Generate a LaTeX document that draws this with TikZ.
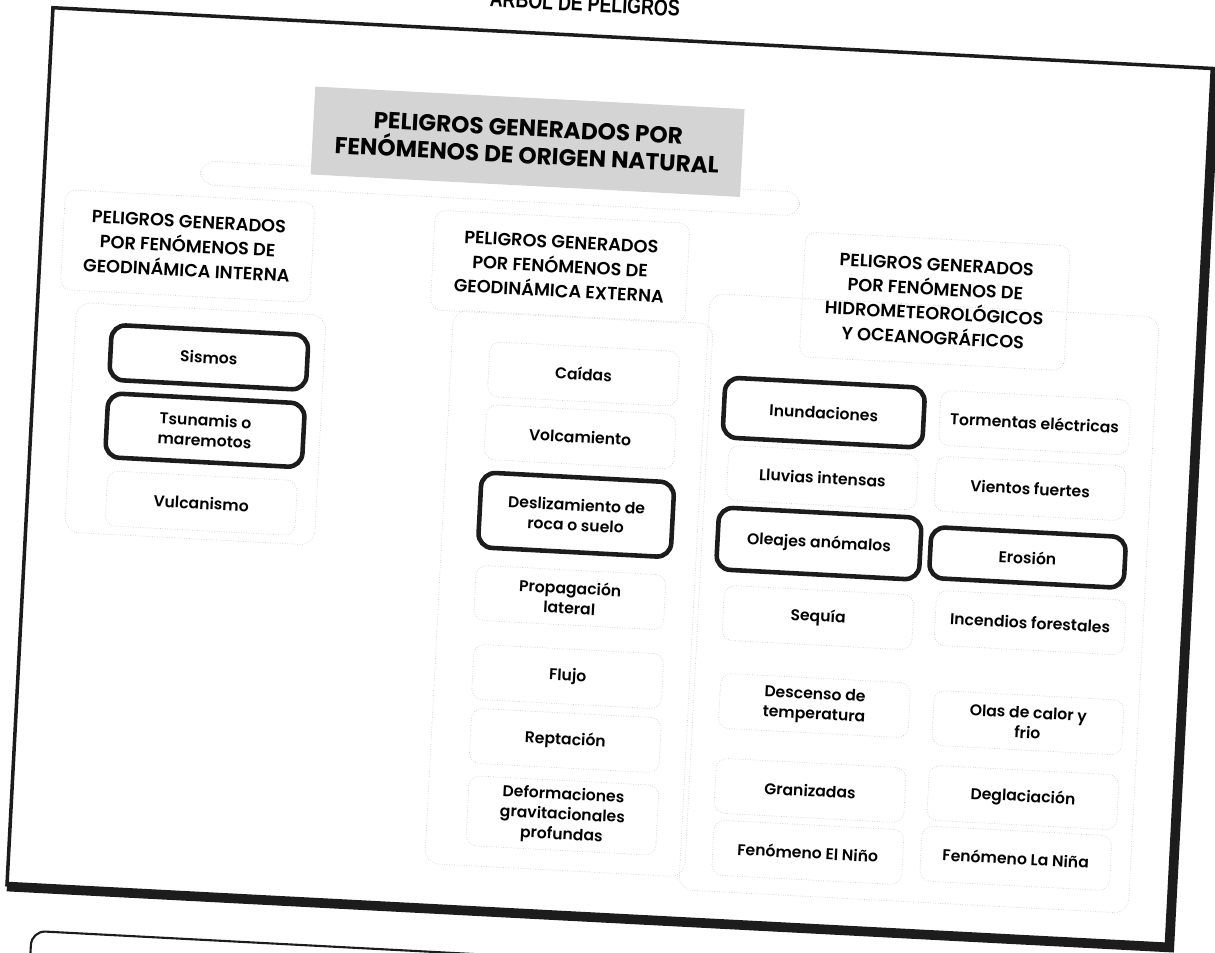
\documentclass[tikz,border=0pt]{standalone}
\usepackage{fontspec}
\setmainfont{Poppins}[UprightFont={* SemiBold}, BoldFont={* Bold}]
\newfontfamily\titlefont{Liberation Sans}[FakeStretch=0.78]
\usetikzlibrary{positioning}
\definecolor{faintgray}{RGB}{205,205,205}
\definecolor{shadegray}{RGB}{212,212,212}
\definecolor{scanblack}{RGB}{28,28,28}

\begin{document}
\begin{tikzpicture}[x=0.02cm, y=-0.02cm,
        every node/.style={transform shape, align=center, inner sep=2pt, font=\fontsize{8.9}{11.4}\selectfont},
        topbox/.style={rectangle, fill=shadegray, minimum width=8.6cm, minimum height=1.76cm, font=\fontsize{13.2}{15.5}\selectfont\bfseries},
        headbox/.style={rectangle, draw=faintgray, densely dotted, rounded corners=6pt, minimum width=5cm, minimum height=2cm, font=\fontsize{10.1}{13.9}\selectfont},
        item/.style={rectangle, draw=faintgray, densely dotted, rounded corners=6pt, minimum width=3.8cm, minimum height=1.1cm},
        keyitem/.style={item, draw=scanblack, solid, line width=2.6pt, rounded corners=8pt, minimum width=3.94cm},
        faint/.style={draw=faintgray, densely dotted, rounded corners=8pt},
        frame/.style={draw=scanblack, line width=2pt},
        shadow/.style={draw=scanblack, line width=5.5pt}
    ]
    \useasboundingbox (0,0) rectangle (1215,953);
    \begin{scope}[rotate around={-3:(600,480)}]
    \node[font=\titlefont\fontsize{13}{15}\bfseries, anchor=base] (title) at (560,13) {ÁRBOL DE PELIGROS};
    \coordinate (tl) at (29,37);
    \coordinate (tr) at (1193,37);
    \coordinate (br) at (1193,917);
    \coordinate (bl) at (29,917);
    \draw[frame] (bl) -- (tl) -- (tr);
    \draw[shadow] (tr) -- (br) -- (bl);
    \draw[frame, line width=1.2pt, rounded corners=8pt] (56,1100) -- (56,960) -- (1400,960);

    \draw[faint] (185,182) rectangle (785,206);
    \draw[faint] (68,330) rectangle (318,560);
    \draw[faint] (445,318) rectangle (705,872);
    \draw[faint] (700,288) rectangle (1150,885);

    \node[topbox] (nat) at (510,146) {PELIGROS GENERADOS POR\\FENÓMENOS DE ORIGEN NATURAL};

    \node[headbox] (gint) at (176,268) {PELIGROS GENERADOS\\POR FENÓMENOS DE\\GEODINÁMICA INTERNA};
    \node[keyitem, minimum height=1.1cm] (sismos) at (203,378) {Sismos};
    \node[keyitem, minimum height=1.28cm] (tsu) at (203,451) {Tsunamis o\\maremotos};
    \node[item] (vulc) at (203,524) {Vulcanismo};

    \node[headbox, minimum width=5.1cm] (gext) at (549,269) {PELIGROS GENERADOS\\POR FENÓMENOS DE\\GEODINÁMICA EXTERNA};
    \node[item] (caidas) at (578,375) {Caídas};
    \node[item] (volc) at (578,438) {Volcamiento};
    \node[keyitem, minimum width=3.86cm, minimum height=1.5cm] (desl) at (578,516) {Deslizamiento de\\roca o suelo};
    \node[item] (prop) at (576,599) {Propagación\\lateral};
    \node[item] (flujo) at (578,678) {Flujo};
    \node[item] (rept) at (579,742) {Reptación};
    \node[item, minimum height=1.4cm] (defor) at (580,817) {Deformaciones\\gravitacionales\\profundas};

    \node[headbox, minimum width=5.3cm, minimum height=2.5cm] (hidro) at (925,284) {PELIGROS GENERADOS\\POR FENÓMENOS DE\\HIDROMETEOROLÓGICOS\\Y OCEANOGRÁFICOS};
    \node[keyitem, minimum width=4cm, minimum height=1.2cm] (inund) at (820,401) {Inundaciones};
    \node[item] (torm) at (1031,400) {Tormentas eléctricas};
    \node[item] (lluv) at (822,466) {Lluvias intensas};
    \node[item] (vient) at (1030,466) {Vientos fuertes};
    \node[keyitem, minimum width=4.06cm, minimum height=1.24cm] (olea) at (822,532) {Oleajes anómalos};
    \node[keyitem, minimum width=3.9cm, minimum height=1.02cm] (eros) at (1031,535) {Erosión};
    \node[item] (seq) at (825,606) {Sequía};
    \node[item] (incen) at (1037,600) {Incendios forestales};
    \node[item] (desc) at (826,694) {Descenso de\\temperatura};
    \node[item] (olas) at (1040,700) {Olas de calor y\\frio};
    \node[item] (graniz) at (826,779) {Granizadas};
    \node[item] (degla) at (1039,775) {Deglaciación};
    \node[item] (nino) at (827,841) {Fenómeno El Niño};
    \node[item] (nina) at (1035,836) {Fenómeno La Niña};
    \end{scope}
\end{tikzpicture}
\end{document}
